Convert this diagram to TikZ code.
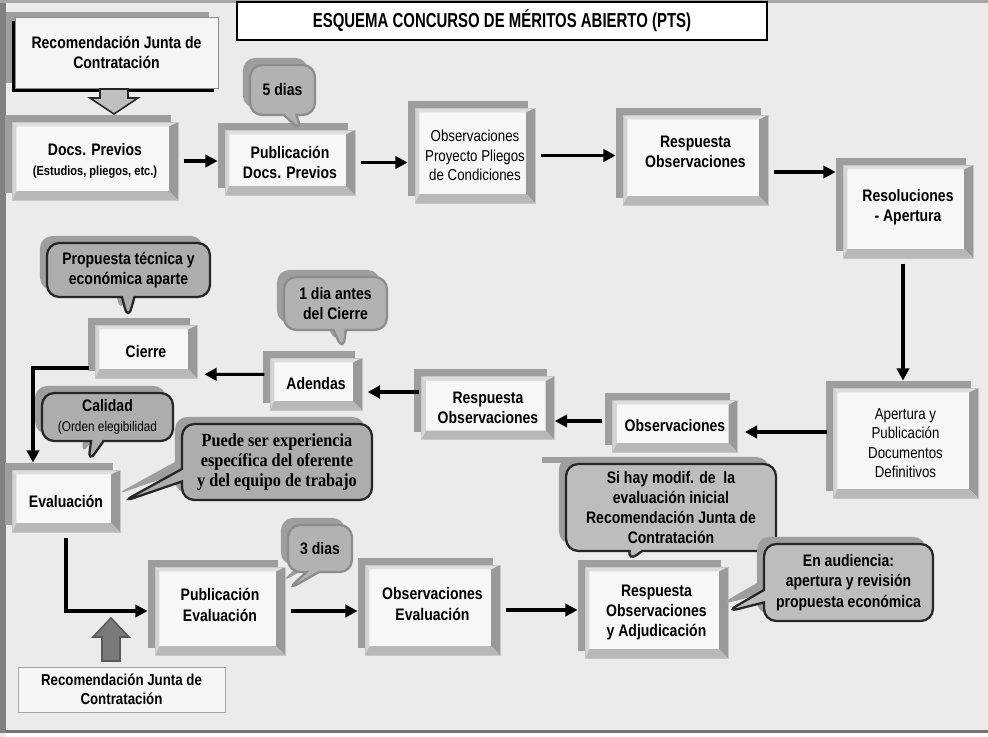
\documentclass[tikz,border=0pt]{standalone}
\usepackage{fontspec}
\setmainfont{Liberation Sans}[FakeStretch=0.84]
\newfontfamily\titular{Liberation Sans}[FakeStretch=0.74]
\newfontfamily\romana{Liberation Serif}[FakeStretch=0.88]
\usetikzlibrary{positioning, shapes, shapes.callouts, shadows, arrows.meta}

\begin{document}
\begin{tikzpicture}[
    x=0.02cm, y=-0.02cm,
    sombra/.style={general shadow={shadow xshift=-4pt, shadow yshift=4pt, fill=black!38}},
    bisel/.style={path picture={
        \coordinate (q1) at (path picture bounding box.south west);
        \coordinate (q2) at (path picture bounding box.south east);
        \coordinate (q3) at (path picture bounding box.north east);
        \coordinate (q4) at (path picture bounding box.north west);
        \fill[black!13] (q4) -- (q3) -- ([shift={(-5pt,-2.5pt)}]q3) -- ([shift={(2.5pt,-2.5pt)}]q4) -- cycle;
        \fill[black!17] (q1) -- (q4) -- ([shift={(2.5pt,-2.5pt)}]q4) -- ([shift={(2.5pt,5pt)}]q1) -- cycle;
        \fill[black!40] (q2) -- (q3) -- ([shift={(-5pt,-2.5pt)}]q3) -- ([shift={(-5pt,5pt)}]q2) -- cycle;
        \fill[black!28] (q1) -- (q2) -- ([shift={(-5pt,5pt)}]q2) -- ([shift={(2.5pt,5pt)}]q1) -- cycle;
    }},
    caja/.style={rectangle, fill=black!3, draw=black!22, sombra, bisel, align=center,
        inner sep=2pt, font=\bfseries\fontsize{9.5}{11.5}\selectfont},
    fina/.style={font=\fontsize{9}{11}\selectfont},
    cajaplana/.style={rectangle, fill=black!4, draw=black!45, align=center,
        font=\bfseries\fontsize{9.5}{11.5}\selectfont},
    globo/.style={rectangle callout, rounded corners=7pt, fill=black!32, draw=black!85,
        line width=1.3pt, sombra, align=center, inner sep=2pt,
        font=\bfseries\fontsize{9.5}{11.5}\selectfont},
    globoclaro/.style={globo, draw=black!45, fill=black!30},
    bloque/.style={line width=0.9pt, line join=miter},
    flecha/.style={-{Triangle[length=7pt,width=7pt]}, line width=1.8pt, shorten <=3pt, shorten >=4pt}
]
% fondo y marco
\fill[black!8] (0,0) rectangle (988,737);
\useasboundingbox (0,0) rectangle (988,737);
\fill[black!50] (0,0) rectangle (6,733);
\fill[black!35] (0,0) rectangle (988,3);
\fill[black!55] (6,730) rectangle (988,733);
\fill[white] (6,733) rectangle (988,737);
\fill[black!38] (542,457) rectangle (748,463);

% titulo
\node[rectangle, fill=white, draw=black, line width=0.8pt, minimum width=10.6cm, minimum height=0.76cm,
    font=\titular\bfseries\fontsize{11.5}{13}\selectfont] (titulo) at (502,21) {ESQUEMA CONCURSO DE MÉRITOS ABIERTO (PTS)};

% fila superior
\node[cajaplana, minimum width=4.06cm, minimum height=1.42cm,
    general shadow={shadow xshift=-5pt, shadow yshift=3pt, fill=black!38},
    general shadow={shadow xshift=-2pt, shadow yshift=-2pt, fill=black}] (recoA) at (116.5,52.5)
    {Recomendación Junta de\\Contratación};

\node[caja, minimum width=3.32cm, minimum height=1.56cm] (docs) at (95,161)
    {Docs. Previos\\{\fontsize{7.5}{10}\selectfont (Estudios, pliegos, etc.)}};
\node[caja, minimum width=2.6cm, minimum height=1.3cm] (pubdocs) at (290,162.5) {Publicación\\Docs. Previos};
\node[caja, fina, minimum width=2.4cm, minimum height=1.9cm] (obsproy) at (475,155.5)
    {Observaciones\\Proyecto Pliegos\\de Condiciones};
\node[caja, minimum width=2.9cm, minimum height=1.8cm] (respA) at (695.5,160) {Respuesta\\Observaciones\\[-2.5pt]};
\node[caja, minimum width=2.6cm, minimum height=1.86cm] (resol) at (908,211.5) {Resoluciones\\- Apertura\\[-5pt]};

\node[globoclaro, minimum width=1.3cm, minimum height=1cm, callout absolute pointer={(302,132)}] (dias5) at (282.5,90) {5 dias};

% flecha gruesa de la recomendacion
\draw[bloque, fill=black!25, draw=black!85]
    (100,89) -- (100,98) -- (90,98) -- (114,114) -- (138,98) -- (128,98) -- (128,89) -- cycle;

% fila central
\node[caja, fina, minimum width=2.9cm, minimum height=2.2cm] (apertura) at (905.5,443)
    {Apertura y\\Publicación\\Documentos\\Definitivos};
\node[caja, minimum width=2.5cm, minimum height=1.04cm] (obsB) at (675,426) {Observaciones};
\node[caja, minimum width=2.66cm, minimum height=1.26cm] (respB) at (488,408) {Respuesta\\Observaciones};
\node[caja, minimum width=1.84cm, minimum height=1.04cm] (adendas) at (316,384) {Adendas};
\node[caja, minimum width=2.04cm, minimum height=1.06cm] (cierre) at (146,351.5) {Cierre};
\node[caja, minimum width=2.16cm, minimum height=1.24cm] (evaluacion) at (66,501) {Evaluación};

\node[globo, minimum width=3.26cm, minimum height=1.08cm, callout absolute pointer={(128,320)}] (propuesta) at (128.5,270)
    {Propuesta técnica y\\económica aparte};
\node[globoclaro, minimum width=2.06cm, minimum height=1.06cm, callout absolute pointer={(343,351)}] (diaantes) at (335.5,303.5)
    {1 dia antes\\del Cierre};
\node[globo, minimum width=2.62cm, minimum height=0.96cm, callout absolute pointer={(88,463)}] (calidad) at (107.5,417)
    {Calidad\\{\mdseries\fontsize{8}{10}\selectfont (Orden elegibilidad}};
\node[globo, minimum width=3.8cm, minimum height=1.52cm, callout absolute pointer={(122,502)},
    font=\romana\bfseries\fontsize{10.5}{11.5}\selectfont] (puede) at (277,462)
    {Puede ser experiencia\\específica del oferente\\y del equipo de trabajo};

% fila inferior
\node[caja, minimum width=2.6cm, minimum height=1.76cm] (pubeval) at (220,611) {Publicación\\Evaluación\\[-4.5pt]};
\node[caja, minimum width=2.7cm, minimum height=1.8cm] (obseval) at (432.5,610) {Observaciones\\Evaluación\\[-4.5pt]};
\node[caja, minimum width=2.86cm, minimum height=1.82cm] (respadj) at (656.5,612.5)
    {Respuesta\\Observaciones\\y Adjudicación};
\node[cajaplana, draw=black!35, font=\bfseries\fontsize{9}{11}\selectfont, minimum width=4.14cm, minimum height=0.9cm] (recoB) at (121.5,689.5)
    {Recomendación Junta de\\Contratación};

% flecha gruesa hacia arriba
\draw[bloque, fill=black!52, draw=black!65]
    (102,661) -- (102,637) -- (93,637) -- (111,618) -- (129,637) -- (120,637) -- (120,661) -- cycle;

\node[globoclaro, minimum width=1.28cm, minimum height=0.94cm, callout absolute pointer={(287,590)}] (dias3) at (320,548.5) {3 dias};
\node[globo, fill=black!26, minimum width=4.2cm, minimum height=1.74cm, callout absolute pointer={(627,562)}] (sihay) at (671,507.5)
    {Si hay modif. de\ \ la\\evaluación inicial\\Recomendación Junta de\\Contratación};
\node[globo, fill=black!26, minimum width=3.38cm, minimum height=1.54cm, callout absolute pointer={(726,612)}] (audiencia) at (848.5,582.5)
    {En audiencia:\\apertura y revisión\\propuesta económica};

% conectores
\coordinate (rA) at ([yshift=-0.24cm]respA.east);
\coordinate (rB) at ([xshift=-0.1cm]resol.south);
\coordinate (aB) at ([yshift=0.22cm]apertura.west);
\coordinate (oB) at ([yshift=0.1cm]obsB.west);
\coordinate (dA) at ([yshift=-0.16cm]adendas.east);
\coordinate (cA) at ([yshift=-0.33cm]cierre.west);
\coordinate (eA) at ([xshift=-0.66cm]evaluacion.north);
\draw[flecha] (docs.east) -- (docs.east -| pubdocs.west);
\draw[flecha] (pubdocs.east) -- (pubdocs.east -| obsproy.west);
\draw[flecha] (obsproy.east) -- (obsproy.east -| respA.west);
\draw[flecha] (rA) -- (rA -| resol.west);
\draw[flecha] (rB) -- (rB |- apertura.north);
\draw[flecha] (aB) -- (aB -| obsB.east);
\draw[flecha, shorten <=6pt, shorten >=0pt] (oB) -- (oB -| respB.east);
\draw[flecha, shorten <=1pt, shorten >=3pt] (dA -| respB.west) -- (dA);
\draw[flecha] (adendas.west |- cierre.south) ++(0,-4) -- ([yshift=0.08cm]cierre.south east);
\draw[flecha] (cA) -| (eA);
\draw[flecha] (evaluacion.south) |- (pubeval.west);
\draw[flecha] (pubeval.east) -- (pubeval.east -| obseval.west);
\draw[flecha] (obseval.east) -- (obseval.east -| respadj.west);
\end{tikzpicture}
\end{document}
